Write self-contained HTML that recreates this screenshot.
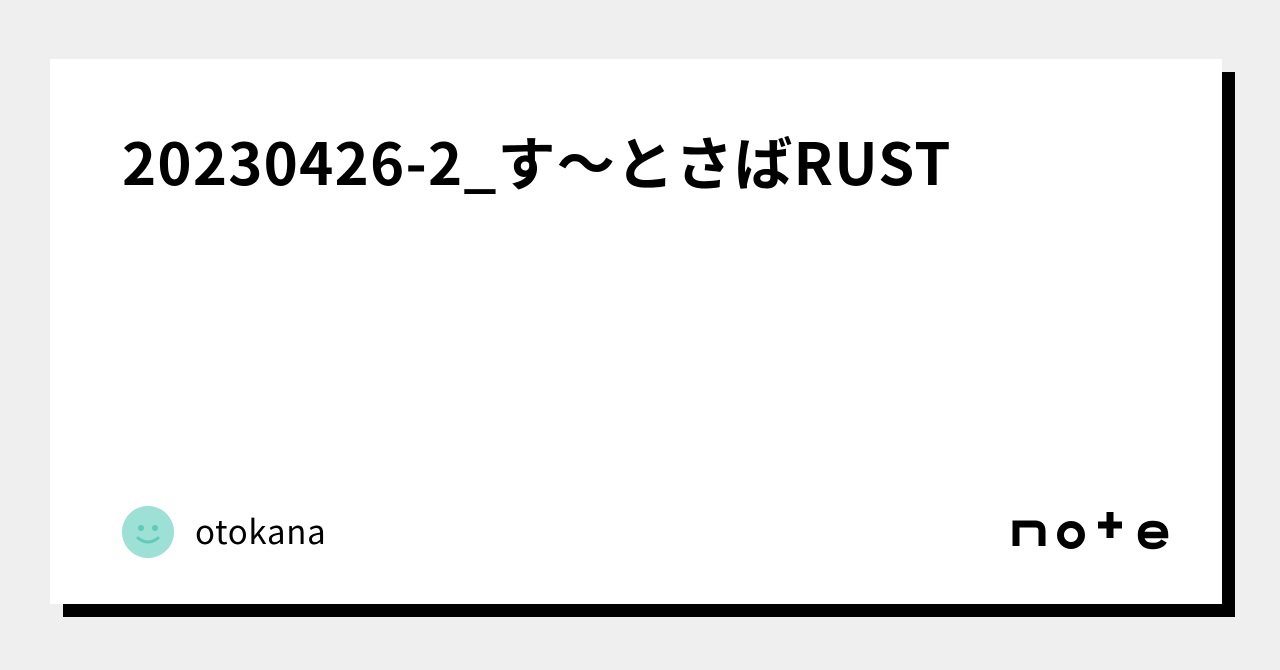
<!DOCTYPE html>
<html><head><meta charset="utf-8"><style>
html,body{margin:0;padding:0;}
body{width:1280px;height:670px;background:#efefef;position:relative;overflow:hidden;font-family:"Liberation Sans","Noto Sans CJK JP",sans-serif;}
.sh{position:absolute;left:63px;top:72px;width:1172px;height:545px;background:#000;}
.card{position:absolute;left:50px;top:59px;width:1172px;height:545px;background:#fff;}
.t{position:absolute;left:122px;top:120px;font-family:"Noto Sans CJK JP",sans-serif;font-weight:700;font-size:58px;line-height:80px;color:#000;white-space:nowrap;letter-spacing:1.2px;}
.u{position:absolute;left:195px;top:507px;font-family:"Noto Sans CJK JP",sans-serif;font-size:33px;line-height:46px;color:#000;letter-spacing:0.7px;}
</style></head><body>
<div class="sh"></div><div class="card"></div>
<div class="t">20230426-2_す〜とさばRUST</div>
<svg style="position:absolute;left:122px;top:506px" width="52" height="52"><circle cx="26" cy="26" r="26" fill="#9ce0d6"/><circle cx="19" cy="22" r="3" fill="#5fcbbb"/><circle cx="33" cy="22" r="3" fill="#5fcbbb"/><path d="M16 32 Q26 40 36 32" stroke="#5fcbbb" stroke-width="3" fill="none" stroke-linecap="round"/></svg>
<div class="u">otokana</div>
<svg style="position:absolute;left:1010px;top:506px" width="162" height="44">
<path d="M6 40 V18 H25 Q32 18 32 25 V40" stroke="#000" stroke-width="7" fill="none"/>
<circle cx="61" cy="29" r="10.5" stroke="#000" stroke-width="7" fill="none"/>
<path d="M100 6 V32 M88 19 H112" stroke="#000" stroke-width="7" fill="none"/>
<path d="M131 29 H155 Q155 18 143 18 Q131 18 131 29 Q131 40 143 40 Q151 40 154 35" stroke="#000" stroke-width="6.5" fill="none"/>
</svg>
</body></html>
